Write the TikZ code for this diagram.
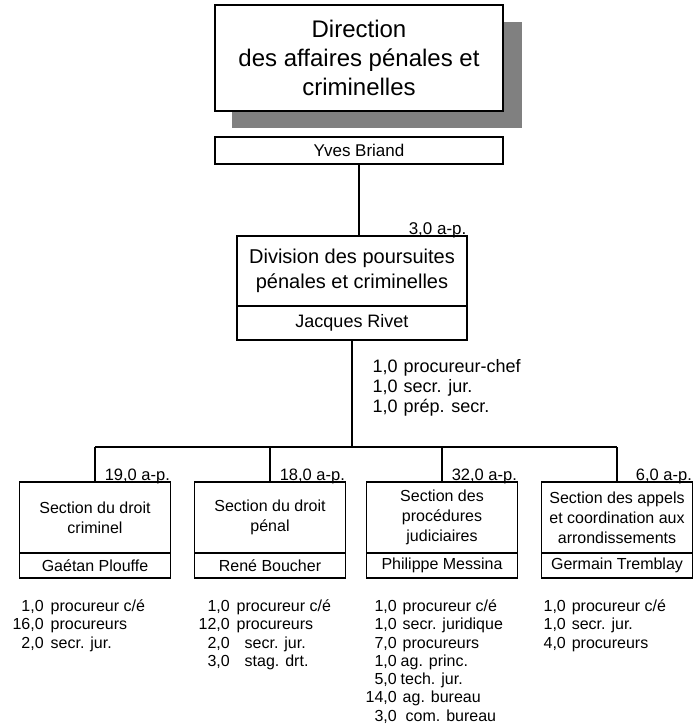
\documentclass[tikz,border=0pt]{standalone}
\usepackage{fontspec}
\setmainfont{Liberation Sans}
\usetikzlibrary{positioning}

\begin{document}
\begin{tikzpicture}[x=1pt,y=-1pt,line width=1.2pt,
		unit node/.style={draw, fill=white, align=center, inner sep=0pt, outer sep=0pt},
		name node/.style={draw, fill=white, align=center, inner sep=0pt, outer sep=0pt},
		fte node/.style={anchor=base east, inner sep=0pt, yshift=2pt, font=\fontsize{16.5}{18}\selectfont},
		staff node/.style={anchor=north west, inner sep=0pt, font=\fontsize{16}{18.3}\selectfont}]
			\useasboundingbox (0,0) rectangle (694,727);
			% Direction
			\fill[gray] (232,22) rectangle (522,128);
			\node[unit node, minimum width=288pt, minimum height=106pt, font=\fontsize{24}{29}\selectfont] (1) at (359,58) {Direction\\des affaires pénales et\\criminelles};
			\node[name node, minimum width=288pt, minimum height=27pt, font=\fontsize{17}{19}\selectfont] (2) at (359,150.5) {Yves Briand};
			
			% Division
			\node[unit node, minimum width=230pt, minimum height=70pt, font=\fontsize{20}{25}\selectfont] (3) at (352,271) {Division des poursuites\\pénales et criminelles};
			\node[name node, minimum width=230pt, minimum height=34pt, font=\fontsize{18}{20}\selectfont] (4) [below=0pt of 3] {Jacques Rivet};
			\node[fte node, font=\fontsize{17}{18}\selectfont] at (3.north east) {3,0 a-p.};
			\node[staff node, font=\fontsize{18}{20}\selectfont] (d) at (372,358) {\begin{tabular}{@{}r@{\hspace{6pt}}l@{}}
					1,0 & procureur-chef\\ 1,0 & secr. jur.\\ 1,0 & prép. secr.\end{tabular}};
			
			% Sections
			\node[unit node, minimum width=151pt, minimum height=71pt, font=\fontsize{16}{20}\selectfont] (5) at (95,517.5) {Section du droit\\criminel};
			\node[unit node, minimum width=151pt, minimum height=71pt, font=\fontsize{16}{20}\selectfont] (6) at (270,517.5) {Section du droit\\pénal};
			\node[unit node, minimum width=151pt, minimum height=71pt, font=\fontsize{16}{20}\selectfont] (7) at (442,517.5) {Section des\\procédures\\judiciaires};
			\node[unit node, minimum width=151pt, minimum height=71pt, font=\fontsize{16}{20}\selectfont] (8) at (617,517.5) {Section des appels\\et coordination aux\\arrondissements};
			
			\node[name node, minimum width=151pt, minimum height=25pt, font=\fontsize{16}{18}\selectfont] (9) [below=0pt of 5] {Gaétan Plouffe};
			\node[name node, minimum width=151pt, minimum height=25pt, font=\fontsize{16}{18}\selectfont] (10) [below=0pt of 6] {René Boucher};
			\node[name node, minimum width=151pt, minimum height=25pt, font=\fontsize{16}{18}\selectfont] (11) [below=0pt of 7] {Philippe Messina};
			\node[name node, minimum width=151pt, minimum height=25pt, font=\fontsize{16}{18}\selectfont] (12) [below=0pt of 8] {Germain Tremblay};
			
			\node[fte node] at (5.north east) {19,0 a-p.};
			\node[fte node] at (6.north east) {18,0 a-p.};
			\node[fte node] at (7.north east) {32,0 a-p.};
			\node[fte node] at (8.north east) {6,0 a-p.};
			
			% Connectors
			\coordinate (bus) at (352,447);
			\draw (2.south) -- (2.south |- 3.north);
			\draw (4.south) -- (bus);
			\draw (5.north |- bus) -- (8.north |- bus);
			\foreach \s in {5,6,7,8}
				\draw (\s.north) -- (\s.north |- bus);
			
			% Staff
			\node[staff node] (s1) at (12,598) {\begin{tabular}{@{}r@{\hspace{7pt}}l@{}}
					1,0 & procureur c/é\\ 16,0 & procureurs\\ 2,0 & secr. jur.\end{tabular}};
			\node[staff node] (s2) at (198,598) {\begin{tabular}{@{}r@{\hspace{7pt}}l@{}}
					1,0 & procureur c/é\\ 12,0 & procureurs\\ 2,0 & \hspace{8pt}secr. jur.\\ 3,0 & \hspace{8pt}stag. drt.\end{tabular}};
			\node[staff node] (s3) at (365,598) {\begin{tabular}{@{}r@{\hspace{6pt}}l@{}}
					1,0 & procureur c/é\\ 1,0 & secr. juridique\\ 7,0 & procureurs\\ 1,0 & \hspace{-2pt}ag. princ.\\ 5,0 & \hspace{-2pt}tech. jur.\\ 14,0 & ag. bureau\\ 3,0 & \hspace{3pt}com. bureau\end{tabular}};
			\node[staff node] (s4) at (543,598) {\begin{tabular}{@{}r@{\hspace{6pt}}l@{}}
					1,0 & procureur c/é\\ 1,0 & secr. jur.\\ 4,0 & procureurs\end{tabular}};
\end{tikzpicture}
\end{document}
